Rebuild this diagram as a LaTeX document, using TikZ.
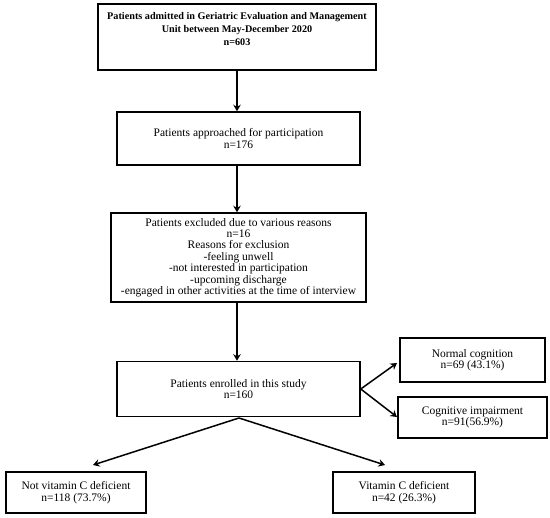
\documentclass[tikz,border=0pt]{standalone}
\usepackage{fontspec}
\setmainfont{Liberation Serif}
\usetikzlibrary{arrows.meta}
\begin{document}
\begin{tikzpicture}[x=1pt,y=-1pt,
  box/.style={draw, line width=1.5pt, inner sep=0pt, align=center,
    font=\fontsize{11.5}{11.4}\selectfont},
  arr/.style={line width=1.5pt, -{Stealth[length=6.5pt,width=7.5pt]}},
  lin/.style={line width=1.5pt}]
\useasboundingbox (0,0) rectangle (550,518);
\node[box, minimum width=278pt, minimum height=66pt] (b1) at (237,37) {};
\node[align=center, inner sep=0pt, font=\bfseries\fontsize{10.2}{13.2}\selectfont] (t1) at (237,29)
  {Patients admitted in Geriatric Evaluation and Management\\Unit between May-December 2020\\n=603};
\node[box, minimum width=243pt, minimum height=53pt] (b2) at (238.5,138.5)
  {Patients approached for participation\\n=176};
\node[box, minimum width=255pt, minimum height=89pt] (b3) at (238.5,257.5)
  {Patients excluded due to various reasons\\n=16\\Reasons for exclusion\\-feeling unwell\\-not interested in participation\\-upcoming discharge\\-engaged in other activities at the time of interview};
\node[box, minimum width=243pt, minimum height=55pt] (b4) at (238.5,389)
  {Patients enrolled in this study\\n=160};
\node[box, minimum width=145pt, minimum height=44pt] (b5) at (472.5,360)
  {Normal cognition\\n=69 (43.1\%)};
\node[box, minimum width=149pt, minimum height=41pt] (b6) at (472.5,417.5)
  {Cognitive impairment\\n=91(56.9\%)};
\node[box, minimum width=140pt, minimum height=41pt] (b7) at (76,492.5)
  {Not vitamin C deficient\\n=118 (73.7\%)};
\node[box, minimum width=142pt, minimum height=41pt] (b8) at (404,492.5)
  {Vitamin C deficient\\n=42 (26.3\%)};
\draw[arr] (b1.south -| 237,0) -- (b2.north -| 237,0);
\draw[arr] (b2.south -| 237,0) -- (b3.north -| 237,0);
\draw[arr] (b3.south -| 237,0) -- (b4.north -| 237,0);
\coordinate (br) at (b4.east);
\coordinate (pk) at (239,418);
\draw[arr] (br) -- (397,363) coordinate (n5);
\draw[arr] (br) -- (397,417) coordinate (n6);
\draw[arr] (pk) -- (93,465) coordinate (n7);
\draw[arr] (pk) -- (385,465) coordinate (n8);
\end{tikzpicture}
\end{document}
